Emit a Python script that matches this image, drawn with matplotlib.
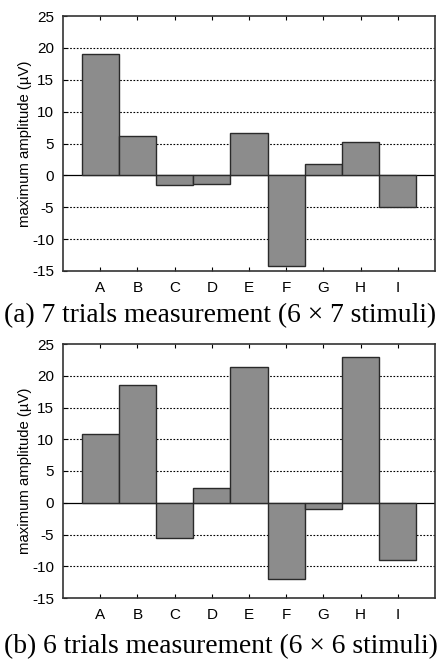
import matplotlib
matplotlib.use("Agg")
import matplotlib.pyplot as plt

plt.rcParams["axes.unicode_minus"] = False

labels = ["A", "B", "C", "D", "E", "F", "G", "H", "I"]
amp_7 = [19.1, 6.1, -1.5, -1.4, 6.7, -14.2, 1.8, 5.3, -5.0]
amp_6 = [10.9, 18.6, -5.6, 2.4, 21.3, -12.0, -1.0, 22.9, -9.0]
captions = [u"(a) 7 trials measurement (6 \u00d7 7 stimuli)",
            u"(b) 6 trials measurement (6 \u00d7 6 stimuli)"]
yticks = [-15, -10, -5, 0, 5, 10, 15, 20, 25]

W, H = 441, 662
fig = plt.figure(figsize=(W / 100, H / 100), dpi=100)

# axes boxes in pixels: left, top, right, bottom
boxes = [(63, 16, 435, 271), (63, 344, 435, 598)]
caption_y = [316, 647]

for data, box, cap, cy in zip([amp_7, amp_6], boxes, captions, caption_y):
    l, t, r, b = box
    ax = fig.add_axes([l / W, 1 - b / H, (r - l) / W, (b - t) / H])
    x = list(range(1, len(labels) + 1))
    ax.bar(x, data, width=1.0, color="#8c8c8c", edgecolor="#2a2a2a",
           linewidth=1.0, zorder=3)
    ax.axhline(0, color="black", linewidth=0.9, zorder=2)
    for yv in yticks[1:-1]:
        if yv != 0:
            ax.axhline(yv, color="black", linewidth=0.8, linestyle=(0, (1.5, 1.5)), zorder=1)
    ax.set_xlim(0, 10)
    ax.set_ylim(-15, 25)
    ax.set_yticks(yticks)
    ax.set_xticks(x)
    ax.set_xticklabels(labels)
    ax.tick_params(direction="in", top=True, right=False, length=3,
                   labelsize=11, pad=6.5, width=0.8)
    ax.tick_params(axis="x", pad=7)
    for lab in ax.get_xticklabels() + ax.get_yticklabels():
        lab.set_fontfamily("Liberation Sans")
    for s in ax.spines.values():
        s.set_linewidth(1.2)
        s.set_color("#333333")
    ax.set_ylabel(u"maximum amplitude (\u00b5V)", fontsize=10.7,
                  fontfamily="Liberation Sans")
    ax.yaxis.set_label_coords(-0.082, 0.5)
    fig.text(0.5, 1 - cy / H, cap, ha="center", va="center",
             fontsize=19.8, fontfamily="Liberation Serif")

fig.savefig("out.png", dpi=100)
